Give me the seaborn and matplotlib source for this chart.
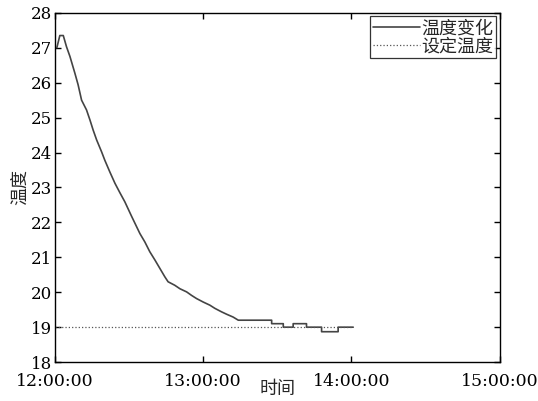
import numpy as np
import pandas as pd
import matplotlib
matplotlib.use("Agg")
import matplotlib.pyplot as plt
import seaborn as sns

# ============================================================
# Data (minutes after 12:00:00)
# ============================================================

minutes = [0.8, 2.0, 3.4, 4.7, 6.1, 8.1, 9.4, 10.8, 12.8, 14.2, 15.5, 16.9,
           18.9, 20.2, 22.2, 24.3, 26.3, 28.3, 31.0, 34.4, 36.4, 38.4, 40.5,
           42.5, 44.5, 45.8, 48.5, 50.6, 53.3, 55.3, 57.3, 60.0, 62.7, 64.7,
           67.4, 69.5, 72.1, 74.2, 87.7, 87.7, 92.4, 92.4, 96.4, 96.4, 101.8,
           101.8, 107.9, 107.9, 114.6, 114.6, 120.7]
temps = [27.0, 27.35, 27.35, 27.03, 26.75, 26.27, 25.94, 25.5, 25.22, 24.93,
         24.64, 24.36, 24.02, 23.78, 23.45, 23.12, 22.85, 22.59, 22.18, 21.68,
         21.44, 21.16, 20.92, 20.68, 20.44, 20.3, 20.2, 20.1, 20.01, 19.91,
         19.82, 19.72, 19.63, 19.54, 19.44, 19.37, 19.29, 19.2, 19.2, 19.1,
         19.1, 19.0, 19.0, 19.1, 19.1, 19.0, 19.0, 18.87, 18.87, 19.0, 19.0]

set_minutes = [0.0, 120.7]
set_temps = [19.0, 19.0]

x_ticks = [0, 60, 120, 180]
x_labels = ["12:00:00", "13:00:00", "14:00:00", "15:00:00"]
y_ticks = [18, 19, 20, 21, 22, 23, 24, 25, 26, 27, 28]

# ============================================================
# Plot
# ============================================================

sns.set_theme(style="ticks")
plt.rcParams["font.family"] = ["DejaVu Serif", "Noto Sans CJK SC"]
plt.rcParams["axes.unicode_minus"] = False

fig = plt.figure(figsize=(5.38, 4.01), dpi=100)
ax = fig.add_axes([0.102, 0.097, 0.827, 0.871])

df = pd.DataFrame({"t": minutes, "temp": temps})
sns.lineplot(data=df, x="t", y="temp", ax=ax, estimator=None, sort=False,
             color="#444444", linewidth=1.2, label="温度变化")
sns.lineplot(x=set_minutes, y=set_temps, ax=ax, estimator=None, sort=False,
             color="#555555", linewidth=0.9, linestyle=":", label="设定温度")

ax.set_xlim(0, 180)
ax.set_ylim(18, 28)
ax.set_xticks(x_ticks)
ax.set_xticklabels(x_labels)
ax.set_yticks(y_ticks)

ax.tick_params(direction="in", length=4, width=1, top=True, right=True,
               colors="black")
ax.tick_params(axis="x", labelsize=12.5, pad=8)
ax.tick_params(axis="y", labelsize=12, pad=2)
for s in ax.spines.values():
    s.set_visible(True)
    s.set_color("black")
    s.set_linewidth(1.0)

cjk = ["Noto Sans CJK SC", "DejaVu Sans"]
ax.set_xlabel("时间", fontsize=13, family=cjk, labelpad=-7)
ax.set_ylabel("温度", fontsize=13, family=cjk, labelpad=1)

leg = ax.legend(loc="upper right", prop={"family": cjk, "size": 13},
                frameon=True, fancybox=False, borderpad=0.15, labelspacing=0.0,
                handlelength=2.6, handletextpad=0.1, borderaxespad=0.2)
leg.get_frame().set_edgecolor("black")
leg.get_frame().set_linewidth(0.9)

fig.savefig("out.png", dpi=100)
